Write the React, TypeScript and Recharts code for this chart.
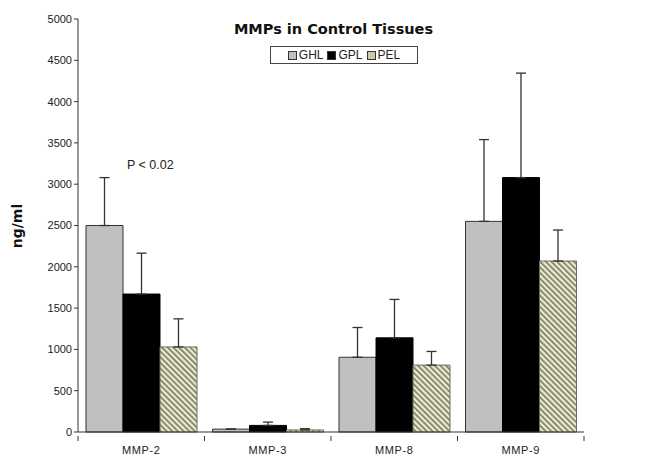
import { Bar, BarChart, ErrorBar, ReferenceDot, XAxis, YAxis } from "recharts";

const categories = ["MMP-2", "MMP-3", "MMP-8", "MMP-9"];
const ghl = [2500, 35, 905, 2550];
const gpl = [1670, 80, 1140, 3080];
const pel = [1030, 25, 810, 2070];
const ghlSd = [580, 0, 360, 990];
const gplSd = [495, 40, 465, 1265];
const pelSd = [340, 15, 165, 375];
const yTicks = [0, 500, 1000, 1500, 2000, 2500, 3000, 3500, 4000, 4500, 5000];

const series = [
  { key: "GHL", fill: "#c0c0c0", stroke: "#333", swatch: "#c0c0c0" },
  { key: "GPL", fill: "#000000", stroke: "#000", swatch: "#000000" },
  { key: "PEL", fill: "url(#pelHatch)", stroke: "#6f6f58", swatch: "#c9c9a8" },
];

const data = categories.map((name, i) => ({
  name,
  GHL: ghl[i],
  GPL: gpl[i],
  PEL: pel[i],
  GHLerr: [0, ghlSd[i]],
  GPLerr: [0, gplSd[i]],
  PELerr: [0, pelSd[i]],
}));

const font = "'Liberation Sans', Arial, sans-serif";
const heavy = "'DejaVu Sans', sans-serif";

function CategoryTick(props: any) {
  const { x, y, payload, index } = props;
  const half = payload.offset || 0;
  return (
    <g>
      <line x1={x - half} x2={x - half} y1={y - 4} y2={y + 1} stroke="#333" />
      {index === categories.length - 1 ? (
        <line x1={x + half} x2={x + half} y1={y - 4} y2={y + 1} stroke="#333" />
      ) : null}
      <text x={x} y={y + 14} textAnchor="middle" fontSize={11} fill="#222" fontFamily={font} letterSpacing={0.6}>
        {payload.value}
      </text>
    </g>
  );
}

export default function App() {
  return (
    <div style={{ position: "absolute", left: 0, top: 0, width: 647, height: 456, background: "#fff", fontFamily: font }}>
      <BarChart
        width={647}
        height={456}
        data={data}
        margin={{ top: 19, right: 63, bottom: 0, left: 0 }}
        barCategoryGap={8}
        barGap={0}
      >
        <defs>
          <pattern id="pelHatch" width="4" height="4" patternUnits="userSpaceOnUse" patternTransform="rotate(-45)">
            <rect width="4" height="4" fill="#ecebd3" />
            <rect width="1.7" height="4" fill="#7d7d62" />
          </pattern>
        </defs>
        <XAxis
          dataKey="name"
          height={24}
          stroke="#333"
          tickLine={false}
          tick={<CategoryTick />}
          interval={0}
        />
        <YAxis
          width={78}
          domain={[0, 5000]}
          ticks={yTicks}
          interval={0}
          stroke="#333"
          tickSize={4}
          tick={{ fontSize: 11, fill: "#222", fontFamily: font }}
        />
        {series.map((s) => (
          <Bar key={s.key} dataKey={s.key} fill={s.fill} stroke={s.stroke} strokeWidth={1} isAnimationActive={false}>
            <ErrorBar dataKey={`${s.key}err`} width={5} stroke="#333" strokeWidth={1.3} direction="y" />
          </Bar>
        ))}
        <ReferenceDot
          x="MMP-2"
          y={3240}
          r={0}
          isFront
          label={{ value: "P < 0.02", position: "center", dx: 9, fontSize: 12.5, fill: "#222", fontFamily: font }}
        />
      </BarChart>
      <div
        style={{
          position: "absolute",
          top: 21,
          left: 0,
          width: 667,
          textAlign: "center",
          fontWeight: "bold",
          fontSize: 14.5,
          fontFamily: heavy,
          color: "#111",
        }}
      >
        MMPs in Control Tissues
      </div>
      <div
        style={{
          position: "absolute",
          top: 46,
          left: 270,
          width: 148,
          height: 18,
          border: "1px solid #444",
          display: "flex",
          alignItems: "center",
          justifyContent: "center",
          gap: 4,
          fontSize: 12,
          color: "#222",
          boxSizing: "border-box",
        }}
      >
        {series.map((s) => (
          <span key={s.key} style={{ display: "flex", alignItems: "center", gap: 2 }}>
            <span style={{ width: 7, height: 7, background: s.swatch, border: "1px solid #333", display: "inline-block" }} />
            {s.key}
          </span>
        ))}
      </div>
      <div
        style={{
          position: "absolute",
          left: 17,
          top: 226,
          transform: "translate(-50%, -50%) rotate(-90deg)",
          fontWeight: "bold",
          fontSize: 14,
          fontFamily: heavy,
          color: "#111",
          whiteSpace: "nowrap",
        }}
      >
        ng/ml
      </div>
    </div>
  );
}
